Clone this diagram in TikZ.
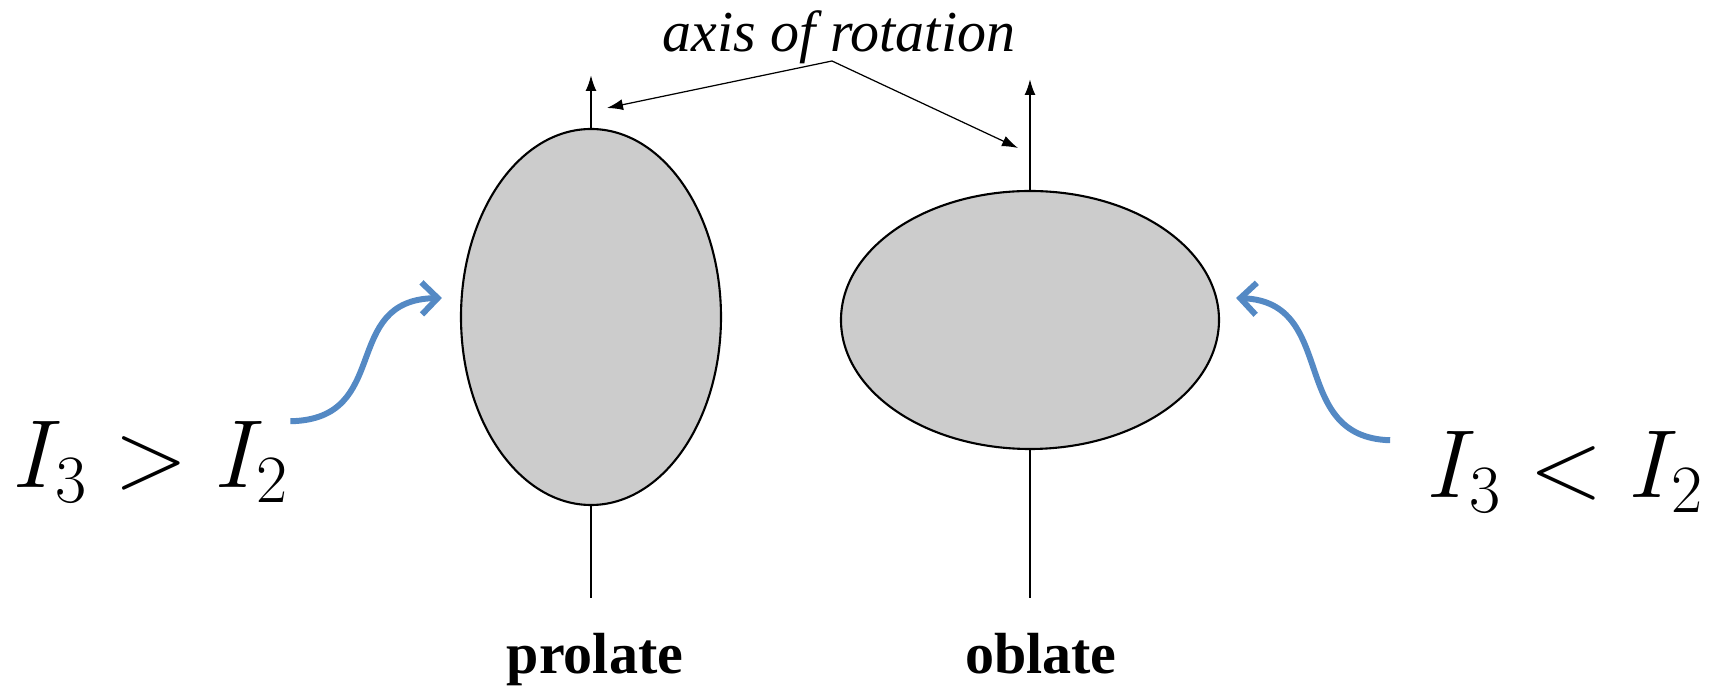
\RequirePackage{fix-cm}
\documentclass[tikz,border=0pt]{standalone}
\usepackage[no-math]{fontspec}
\newfontfamily\labelfont{Liberation Serif}
\usetikzlibrary{arrows.meta,positioning,shapes.geometric}
\definecolor{curveblue}{RGB}{84,137,196}

\begin{document}
\begin{tikzpicture}[>=Latex,
  body/.style={draw=black,line width=0.6pt,fill=black!20,ellipse,inner sep=0pt},
  rotaxis/.style={line width=0.6pt,-{Latex[length=1.6mm,width=1.1mm]}},
  pointer/.style={line width=0.35pt,-{Latex[length=1.6mm,width=1.1mm]}},
  relation/.style={inner sep=0pt,anchor=base,font=\fontsize{27.5}{33}\selectfont},
  shapename/.style={inner sep=0pt,anchor=base,font=\labelfont\bfseries\fontsize{16.5}{20}\selectfont},
  bluecurve/.style={draw=curveblue,line width=1.7pt,-{Straight Barb[length=1.6mm,width=3.2mm]}}]
\useasboundingbox (0,0) rectangle (17.19,6.87);
% the two bodies
\node[body,minimum width=2.6cm,minimum height=3.76cm] (prolate) at (5.91,3.70) {};
\node[body,minimum width=3.78cm,minimum height=2.58cm] (oblate) at (10.30,3.67) {};
% rotation axes
\coordinate (ptop) at (5.91,6.12);
\coordinate (pbot) at (5.91,0.89);
\coordinate (otop) at (10.30,6.08);
\coordinate (obot) at (10.30,0.89);
\draw[rotaxis] (prolate.north)--(ptop);
\draw[line width=0.6pt] (prolate.south)--(pbot);
\draw[rotaxis] (oblate.north)--(otop);
\draw[line width=0.6pt] (oblate.south)--(obot);
% labels
\node[inner sep=0pt,anchor=base,font=\labelfont\itshape\fontsize{16.5}{20}\selectfont] (title) at (8.39,6.35) {axis of rotation};
\node[shapename] (plabel) at (5.95,0.13) {prolate};
\node[shapename] (olabel) at (10.41,0.13) {oblate};
\coordinate (apex) at ([shift={(-0.07,-0.09)}]title.base);
\coordinate (ltip) at (6.07,5.79);
\coordinate (rtip) at (10.18,5.39);
\draw[pointer] (apex)--(ltip);
\draw[pointer] (apex)--(rtip);
% moments of inertia
\node[relation] (gt) at (1.515,1.99) {$I_3>I_2$};
\node[relation] (lt) at (15.66,1.89) {$I_3<I_2$};
\draw[bluecurve] (gt.north east) .. controls +(1.03,0.02) and +(-1.03,-0.02) .. ([shift={(-0.18,0.19)}]prolate.west);
\draw[bluecurve] ([shift={(-0.37,-0.09)}]lt.north west) .. controls +(-1.03,0.03) and +(1.03,-0.04) .. ([shift={(0.16,0.22)}]oblate.east);
\end{tikzpicture}
\end{document}
